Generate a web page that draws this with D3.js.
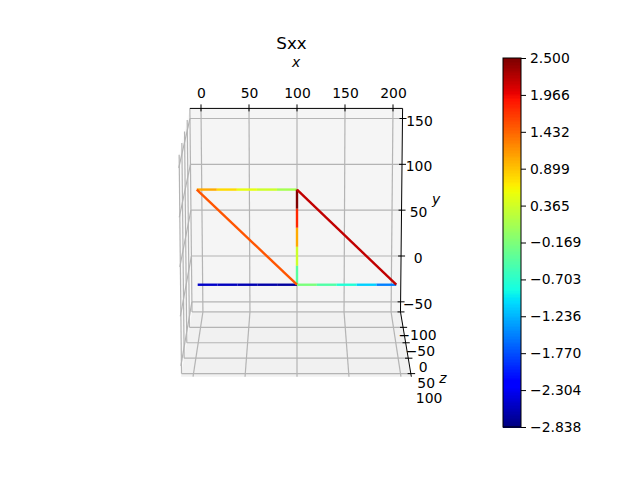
<!DOCTYPE html>
<html>
<head>
<meta charset="utf-8">
<script src="https://cdn.jsdelivr.net/npm/d3@7"></script>
<style>
  html, body { margin: 0; padding: 0; background: #fff; }
  svg { display: block; }
  text { font-family: "DejaVu Sans", sans-serif; font-size: 13.9px; fill: #000; }
</style>
</head>
<body>
<div id="chart"></div>
<script>
// tick values
var xTicks = [0, 50, 100, 150, 200];
var yTicks = [-50, 0, 50, 100, 150];
var zTicks = [-100, -50, 0, 50, 100];
var cbarTickLabels = ["2.500", "1.966", "1.432", "0.899", "0.365", "\u22120.169", "\u22120.703", "\u22121.236", "\u22121.770", "\u22122.304", "\u22122.838"];

// truss members, node coordinates in data units (all at z = 0)
var memberStart = [[0, 100], [0, 0], [100, 0], [100, 0], [0, 100], [100, 100]];
var memberEnd = [[100, 100], [100, 0], [100, 100], [200, 0], [100, 0], [200, 0]];
// Sxx along each member, one value per sub element
var memberValues = [
  [1.06, 0.79, 0.53, 0.36, 0.1],
  [-2.5, -2.55, -2.6, -2.65, -2.7],
  [-0.4, 0.36, 1.06, 1.8, 2.5],
  [-0.17, -0.45, -0.75, -1.08, -1.5],
  [1.54],
  [2.2]
];

var vmin = -2.838, vmax = 2.5;
var xLim = [-11.6, 210], yLim = [-61, 161], zLim = [-100, 110];

var width = 640, height = 480;

var svg = d3.select("#chart").append("svg")
    .attr("width", width)
    .attr("height", height);

// jet colormap
function jet(t) {
  var r = d3.scaleLinear().domain([0, 0.35, 0.66, 0.89, 1]).range([0, 0, 1, 1, 0.5]).clamp(true)(t);
  var g = d3.scaleLinear().domain([0, 0.125, 0.375, 0.64, 0.91, 1]).range([0, 0, 1, 1, 0, 0]).clamp(true)(t);
  var b = d3.scaleLinear().domain([0, 0.11, 0.34, 0.65, 1]).range([0.5, 1, 1, 0, 0]).clamp(true)(t);
  return d3.rgb(r * 255, g * 255, b * 255).formatHex();
}
var color = d3.scaleSequential(jet).domain([vmin, vmax]);

// back plane scales, then a vanishing point for the depth
var xBack = d3.scaleLinear().domain([100, 200]).range([0, 96]);
var yBack = d3.scaleLinear().domain([0, 150]).range([256, 118.5]);
var narrow = d3.scaleLinear().domain(yLim).range([0.98, 1]);
var depth = d3.scaleLinear().domain([-100, 100]).range([1, 1.076]);
var vanishX = 297, vanishY = -500;

function project(x, y, z, dx, dy) {
  var s = depth(z);
  var bx = xBack(x) * narrow(y) * Math.pow(s, 1.3) + (dx || 0) * s;
  var by = yBack(y) + (dy || 0) - vanishY;
  return [vanishX + bx, vanishY + s * by];
}

var line3d = d3.line().x(function(d) { return d[0]; }).y(function(d) { return d[1]; });

function poly(points, fill) {
  svg.append("path")
      .attr("d", line3d(points.map(function(p) { return project(p[0], p[1], p[2]); })) + "Z")
      .style("fill", fill)
      .style("stroke", "none");
}

function seg(a, b, stroke, w) {
  svg.append("path")
      .attr("d", line3d([a, b]))
      .style("fill", "none")
      .style("stroke", stroke)
      .style("stroke-width", w);
}

// panes
poly([[xLim[0], yLim[0], zLim[0]], [xLim[0], yLim[1], zLim[0]], [xLim[0], yLim[1], zLim[1]], [xLim[0], yLim[0], zLim[1]]], "#f9f9f9");
poly([[xLim[0], yLim[0], zLim[0]], [xLim[1], yLim[0], zLim[0]], [xLim[1], yLim[0], zLim[1]], [xLim[0], yLim[0], zLim[1]]], "#f1f1f1");
poly([[xLim[0], yLim[0], zLim[0]], [xLim[1], yLim[0], zLim[0]], [xLim[1], yLim[1], zLim[0]], [xLim[0], yLim[1], zLim[0]]], "#f5f5f5");

// grid lines
var gridColor = "#b4b4b4", gridW = 1.2;
xTicks.forEach(function(x) {
  seg(project(x, yLim[1], zLim[0]), project(x, yLim[0], zLim[0]), gridColor, gridW);
  seg(project(x, yLim[0], zLim[0]), project(x, yLim[0], zLim[1]), gridColor, gridW);
});
yTicks.forEach(function(y) {
  seg(project(xLim[1], y, zLim[0]), project(xLim[0], y, zLim[0]), gridColor, gridW);
  seg(project(xLim[0], y, zLim[0]), project(xLim[0], y, zLim[1]), gridColor, gridW);
});
zTicks.forEach(function(z) {
  seg(project(xLim[0], yLim[1], z), project(xLim[0], yLim[0], z), gridColor, gridW);
  seg(project(xLim[0], yLim[0], z), project(xLim[1], yLim[0], z), gridColor, gridW);
});

// axis lines
seg(project(xLim[0], yLim[1], zLim[0]), project(xLim[1], yLim[1], zLim[0]), "#000", 1);
seg(project(xLim[1], yLim[1], zLim[0]), project(xLim[1], yLim[0], zLim[0]), "#000", 1);
seg(project(xLim[1], yLim[0], zLim[0]), project(xLim[1], yLim[0], zLim[1]), "#000", 1);

// ticks and tick labels
function label(p, txt, anchor) {
  return svg.append("text")
      .attr("x", p[0])
      .attr("y", p[1])
      .attr("dy", "0.36em")
      .attr("text-anchor", anchor || "middle")
      .text(txt);
}
function minus(v) { return String(v).replace("-", "\u2212"); }

xTicks.forEach(function(x) {
  seg(project(x, yLim[1], zLim[0], 0, -4), project(x, yLim[1], zLim[0], 0, 3), "#000", 1);
  label(project(x, yLim[1], zLim[0], 0.5, -15), minus(x));
});
yTicks.forEach(function(y) {
  seg(project(xLim[1], y, zLim[0], -3, 0), project(xLim[1], y, zLim[0], 4, 0), "#000", 1);
  label(project(xLim[1], y, zLim[0], 17, 2), minus(y));
});
zTicks.forEach(function(z) {
  seg(project(xLim[1], yLim[0], z, -3, 0), project(xLim[1], yLim[0], z, 4, 0), "#000", 1);
  label(project(xLim[1], yLim[0], z, 17, 23), minus(z));
});

// truss members, split into their sub elements
memberValues.forEach(function(vals, m) {
  var p0 = memberStart[m], p1 = memberEnd[m];
  var ix = d3.interpolateNumber(p0[0], p1[0]), iy = d3.interpolateNumber(p0[1], p1[1]);
  vals.forEach(function(v, i) {
    var a = i / vals.length, b = (i + 1) / vals.length;
    svg.append("path")
        .attr("d", line3d([project(ix(a), iy(a), 0), project(ix(b), iy(b), 0)]))
        .style("fill", "none")
        .style("stroke", color(v))
        .style("stroke-width", 2.4);
  });
});

// title and axis names
svg.append("text").attr("x", 291.5).attr("y", 49).attr("text-anchor", "middle")
    .style("font-size", "16.67px").text("Sxx");
[["x", 296, 67], ["y", 436, 204], ["z", 443, 383]].forEach(function(d) {
  svg.append("text").attr("x", d[1]).attr("y", d[2]).attr("text-anchor", "middle")
      .style("font-style", "italic").text(d[0]);
});

// colorbar
var cbarX = 503, cbarW = 18;
var cbarY = d3.scaleLinear().domain([vmin, vmax]).range([427, 58]);
var stops = d3.range(256).map(function(i) { return vmin + (vmax - vmin) * i / 255; });
var rowH = (cbarY(vmin) - cbarY(vmax)) / 256;

svg.append("g").selectAll("rect")
    .data(stops)
  .enter().append("rect")
    .attr("x", cbarX)
    .attr("width", cbarW)
    .attr("y", function(d, i) { return cbarY(vmin) - (i + 1) * rowH; })
    .attr("height", rowH + 1)
    .attr("shape-rendering", "crispEdges")
    .style("fill", function(d) { return color(d); });

svg.append("rect")
    .attr("x", cbarX)
    .attr("y", cbarY(vmax))
    .attr("width", cbarW)
    .attr("height", cbarY(vmin) - cbarY(vmax))
    .style("fill", "none")
    .style("stroke", "#000")
    .style("stroke-width", 1);

var cbarValues = cbarTickLabels.map(function(s) { return +s.replace("\u2212", "-"); });
var cbarAxis = d3.axisRight(cbarY)
    .tickValues(cbarValues)
    .tickSize(5)
    .tickPadding(4)
    .tickFormat(function(d, i) { return cbarTickLabels[i]; });

var cbarG = svg.append("g")
    .attr("transform", "translate(" + (cbarX + cbarW) + ",0)")
    .call(cbarAxis);
cbarG.select(".domain").remove();
cbarG.selectAll("text").style("font-size", "13.9px").style("font-family", "'DejaVu Sans', sans-serif");
</script>
</body>
</html>
